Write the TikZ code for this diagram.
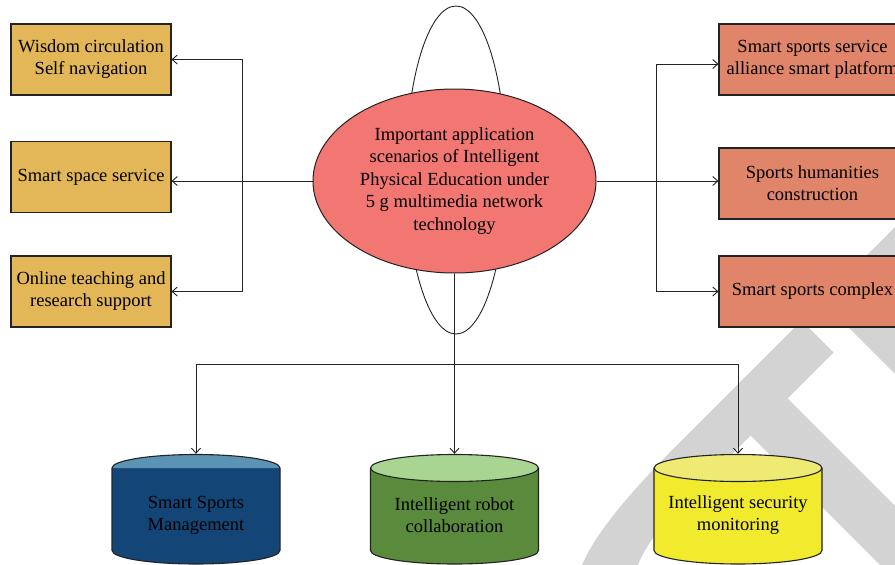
\documentclass[tikz,border=0pt]{standalone}
\usepackage{fontspec}
\setmainfont{Liberation Serif}
\usetikzlibrary{shapes.geometric,arrows.meta}
\definecolor{gold}{RGB}{227,183,88}
\definecolor{salmon}{RGB}{224,133,106}
\definecolor{rose}{RGB}{242,118,114}
\definecolor{navy}{RGB}{19,70,119}
\definecolor{navytop}{RGB}{91,147,181}
\definecolor{leaf}{RGB}{90,138,60}
\definecolor{leaftop}{RGB}{168,213,146}
\definecolor{lemon}{RGB}{242,234,45}
\definecolor{lemontop}{RGB}{238,234,116}
\definecolor{wm}{RGB}{211,211,211}
\definecolor{linec}{RGB}{35,35,35}
\begin{document}
\begin{tikzpicture}[x=1pt,y=-1pt,
  txt/.style={font=\fontsize{18.5}{22}\selectfont, align=center, inner sep=0pt, text=black},
  lbox/.style={txt, draw=linec, line width=1.2pt, fill=gold, minimum width=160pt, minimum height=71pt},
  rbox/.style={txt, draw=linec, line width=1.2pt, fill=salmon, minimum width=187pt, minimum height=71pt},
  cylframe/.style={minimum width=168pt, minimum height=110pt, inner sep=0pt},
  cyl/.style={draw=linec, line width=1.1pt},
  arr/.style={draw=linec, line width=0.9pt, -{Straight Barb[length=5pt,width=9pt]}},
  ln/.style={draw=linec, line width=0.9pt}]
\useasboundingbox (0,0) rectangle (895,565);
\clip (0,0) rectangle (895,565);
\fill[white] (0,0) rectangle (895,565);
% watermark
\fill[wm] (801.5,320.5) -- (833.5,352.5) -- (720,466) .. controls (680,506) and (648,535) .. (636,570) -- (580,570) .. controls (595,530) and (640,482) .. (690,432) -- cycle;
\fill[wm] (787.5,398.5) -- (900,511) -- (900,570) -- (885,570) -- (750.5,435.5) -- cycle;
\fill[wm] (821.5,300.5) -- (900,222) -- (900,379) -- cycle;
% tall ellipse and main ellipse
\node[ellipse, draw=linec, line width=0.9pt, minimum width=100pt, minimum height=328pt, inner sep=0pt] (ring) at (456,170) {};
\node[txt, ellipse, draw=linec, line width=1pt, fill=rose, minimum width=283pt, minimum height=184pt, font=\fontsize{18.5}{22.5}\selectfont] (main) at (454.5,181)
  {Important application\\scenarios of Intelligent\\Physical Education under\\5 g multimedia network\\technology};
% left boxes
\node[lbox] (L1) at (91,59.5) {Wisdom circulation\\Self navigation};
\node[lbox] (L2) at (91,177) {Smart space service};
\node[lbox] (L3) at (91,291.5) {Online teaching and\\research support};
% right boxes
\node[rbox] (R1) at (812.5,59.5) {Smart sports service\\alliance smart platform};
\node[rbox] (R2) at (812.5,183.5) {Sports humanities\\construction};
\node[rbox] (R3) at (812.5,291.5) {Smart sports complex};
% cylinders
\fill[navy] (112,468) -- (112,550.5) arc[start angle=180,end angle=360,x radius=84pt,y radius=13.5pt] -- (280,468) -- cycle;
\fill[navytop] (112,468) arc[start angle=180,end angle=0,x radius=84pt,y radius=13.5pt] -- cycle;
\draw[cyl] (112,468) -- (112,550.5) arc[start angle=180,end angle=360,x radius=84pt,y radius=13.5pt] -- (280,468) arc[start angle=0,end angle=180,x radius=84pt,y radius=13.5pt];
\fill[leaf] (370.5,468) -- (370.5,550.5) arc[start angle=180,end angle=360,x radius=84pt,y radius=13.5pt] -- (538.5,468) -- cycle;
\filldraw[cyl, fill=leaftop] (454.5,468) ellipse [x radius=84pt, y radius=13.5pt];
\draw[cyl] (370.5,468) -- (370.5,550.5) arc[start angle=180,end angle=360,x radius=84pt,y radius=13.5pt] -- (538.5,468);
\fill[lemon] (654,468) -- (654,550.5) arc[start angle=180,end angle=360,x radius=84pt,y radius=13.5pt] -- (822,468) -- cycle;
\filldraw[cyl, fill=lemontop] (738,468) ellipse [x radius=84pt, y radius=13.5pt];
\draw[cyl] (654,468) -- (654,550.5) arc[start angle=180,end angle=360,x radius=84pt,y radius=13.5pt] -- (822,468);
\node[cylframe] (C1) at (196,509) {};
\node[cylframe] (C2) at (454.5,509) {};
\node[cylframe] (C3) at (738,509) {};
\node[txt] (C1t) at (196,515.5) {Smart Sports\\Management};
\node[txt] (C2t) at (454.5,515.5) {Intelligent robot\\collaboration};
\node[txt] (C3t) at (738,515.5) {Intelligent security\\monitoring};
% connectors
\coordinate (jl) at (242,181);
\coordinate (jr) at (656,181);
\coordinate (jb) at (454.5,364);
\draw[arr] (main.west) -- (main.west -| L2.east);
\draw[arr] (jl) |- (L1.east);
\draw[arr] (jl) |- (L3.east);
\draw[arr] (main.east) -- (main.east -| R2.west);
\draw[arr] (jr) |- ([yshift=-4.5pt]R1.west);
\draw[arr] (jr) |- (R3.west);
\draw[arr] (main.south) -- (C2.north);
\draw[arr] (jb) -| (C1.north);
\draw[arr] (jb) -| (C3.north);
\end{tikzpicture}
\end{document}
